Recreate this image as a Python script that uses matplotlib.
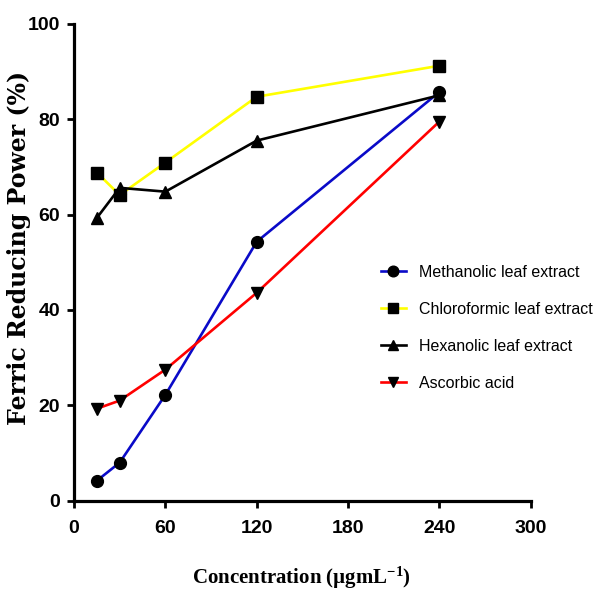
import matplotlib
matplotlib.use("Agg")
import matplotlib.pyplot as plt

# data
conc = [15, 30, 60, 120, 240]
methanolic = [4.2, 8.0, 22.2, 54.3, 85.7]
chloroformic = [68.8, 64.1, 70.9, 84.7, 91.2]
hexanolic = [59.3, 65.6, 64.8, 75.5, 85.0]
ascorbic = [19.3, 21.0, 27.5, 43.6, 79.5]

labels = ["Methanolic leaf extract", "Chloroformic leaf extract",
          "Hexanolic leaf extract", "Ascorbic acid"]
xticks = [0, 60, 120, 180, 240, 300]
yticks = [0, 20, 40, 60, 80, 100]

plt.rcParams['mathtext.fontset'] = 'custom'
plt.rcParams['mathtext.rm'] = 'Liberation Serif:bold'
plt.rcParams['mathtext.default'] = 'rm'

tick_font = {'family': 'Liberation Sans', 'weight': 'bold'}

fig = plt.figure(figsize=(5.97, 5.94), dpi=100)
ax = fig.add_axes([0.124, 0.157, 0.765, 0.803])

series = [
    (methanolic, '#0a0ac8', 'o'),
    (chloroformic, '#ffff00', 's'),
    (hexanolic, 'black', '^'),
    (ascorbic, '#ff0000', 'v'),
]
for (vals, col, mk), lab in zip(series, labels):
    ax.plot(conc, vals, color=col, lw=1.9, marker=mk, ms=8.5,
            mfc='black', mec='black', label=lab)

ax.set_xlim(0, 300)
ax.set_ylim(0, 100)
ax.set_xticks(xticks)
ax.set_yticks(yticks)
ax.set_xticklabels([str(t) for t in xticks], fontdict=dict(tick_font, size=14))
ax.set_yticklabels([str(t) for t in yticks], fontdict=dict(tick_font, size=14))

for s in ['top', 'right']:
    ax.spines[s].set_visible(False)
for s in ['left', 'bottom']:
    ax.spines[s].set_linewidth(2.3)
ax.tick_params(direction='out', length=5, width=2)
ax.tick_params(axis='x', pad=9)
ax.tick_params(axis='y', pad=5)

ax.set_xlabel('Concentration (µgmL$^{-1}$)', family='Liberation Serif',
              weight='bold', fontsize=15)
ax.xaxis.set_label_coords(0.499, -0.135)
ax.set_ylabel('Ferric Reducing Power (%)', family='DejaVu Serif',
              weight='bold', fontsize=17)
ax.yaxis.set_label_coords(-0.095, 0.531)

leg = ax.legend(loc='upper left', bbox_to_anchor=(0.64, 0.525),
                frameon=False, prop={'family': 'Liberation Sans', 'size': 11.5},
                handlelength=1.6, labelspacing=1.38, handletextpad=0.8, markerscale=0.9)

fig.savefig('out.png', dpi=100)
